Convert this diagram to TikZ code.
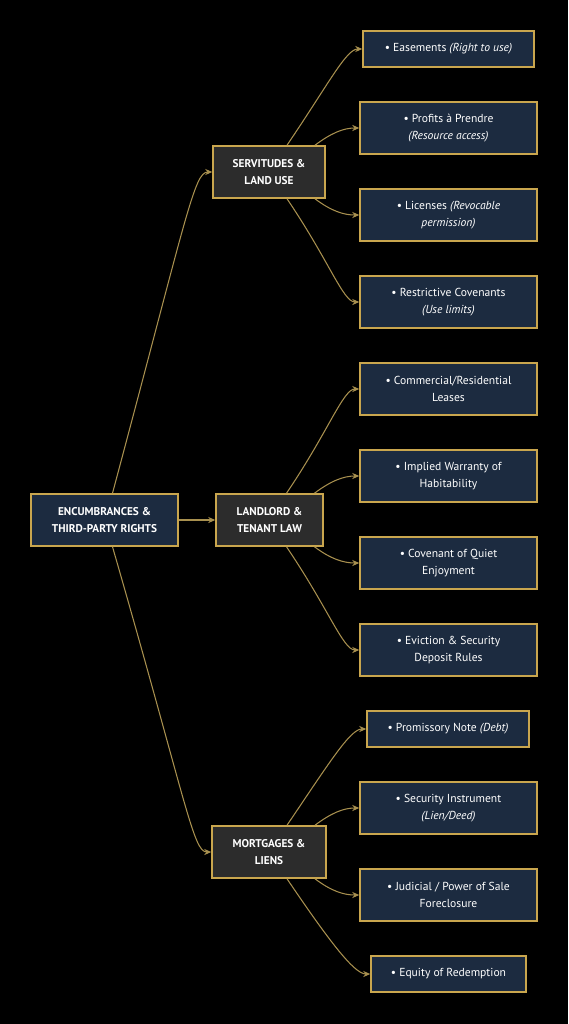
\documentclass[tikz,border=0pt]{standalone}
\usepackage{fontspec}
\setmainfont{PT Sans}
\usetikzlibrary{arrows.meta}
\definecolor{navy}{HTML}{1C2B40}
\definecolor{slate}{HTML}{2C2C2C}
\definecolor{gold}{HTML}{C9A64E}
\definecolor{wire}{HTML}{A8904F}
\tikzset{
	leaf/.style={draw=gold, line width=0.9pt, fill=navy, text=white, align=center, minimum width=3.54cm, minimum height=1.04cm, font=\fontsize{6.6}{9.6}\selectfont},
	short/.style={leaf, minimum height=0.72cm},
	branch/.style={draw=gold, line width=0.9pt, fill=slate, text=white, align=center, minimum height=1.04cm, font=\fontsize{6.4}{9.6}\selectfont\bfseries},
	trunk/.style={branch, fill=navy},
	link/.style={wire, line width=0.6pt, -{Stealth[length=4pt,width=3.5pt]}}
}
\begin{document}
\begin{tikzpicture}[x=0.02cm, y=0.02cm]
	\fill[black] (0,0) rectangle (568,-1024);
	\useasboundingbox (0,0) rectangle (568,-1024);
	% root and its three branches
	\node[trunk, minimum width=2.94cm] (root) at (104.5,-520) {ENCUMBRANCES \&\\THIRD-PARTY RIGHTS};
	\node[branch, minimum width=2.24cm] (serv) at (269,-172) {SERVITUDES \&\\LAND USE};
	\node[branch, minimum width=2.14cm] (land) at (269.5,-520) {LANDLORD \&\\TENANT LAW};
	\node[branch, minimum width=2.28cm] (mort) at (269,-852) {MORTGAGES \&\\LIENS};
	% servitudes
	\node[short, minimum width=3.42cm] (ease) at (448.5,-49) {• Easements \textit{(Right to use)}};
	\node[leaf] (prof) at (448.5,-128) {• Profits à Prendre\\\textit{(Resource access)}};
	\node[leaf] (lic) at (448.5,-215) {• Licenses \textit{(Revocable}\\\textit{permission)}};
	\node[leaf] (cov) at (448.5,-302) {• Restrictive Covenants\\\textit{(Use limits)}};
	% landlord and tenant
	\node[leaf] (lease) at (448.5,-389) {• Commercial/Residential\\Leases};
	\node[leaf] (hab) at (448.5,-476) {• Implied Warranty of\\Habitability};
	\node[leaf] (quiet) at (448.5,-563) {• Covenant of Quiet\\Enjoyment};
	\node[leaf] (evict) at (448.5,-650) {• Eviction \& Security\\Deposit Rules};
	% mortgages
	\node[short, minimum width=3.24cm] (note) at (448,-729) {• Promissory Note \textit{(Debt)}};
	\node[leaf] (sec) at (448.5,-808) {• Security Instrument\\\textit{(Lien/Deed)}};
	\node[leaf] (fore) at (448.5,-895) {• Judicial / Power of Sale\\Foreclosure};
	\node[short, minimum width=3.1cm] (equity) at (448.5,-974) {• Equity of Redemption};

	\draw[link] ([xshift=0.16cm]root.north) .. controls +(75,280) and +(-18,0) .. (serv.west);
	\draw[link] (root.east) -- (land.west);
	\draw[link] ([xshift=0.16cm]root.south) .. controls +(75,-260) and +(-18,0) .. (mort.west);

	\draw[link] ([xshift=0.36cm]serv.north) .. controls +(42,62) and +(-16,0) .. (ease.west);
	\draw[link] ([xshift=0.92cm]serv.north) .. controls +(16,12) and +(-16,0) .. (prof.west);
	\draw[link] ([xshift=0.92cm]serv.south) .. controls +(16,-12) and +(-16,0) .. (lic.west);
	\draw[link] ([xshift=0.36cm]serv.south) .. controls +(42,-62) and +(-16,0) .. (cov.west);

	\draw[link] ([xshift=0.34cm]land.north) .. controls +(42,62) and +(-16,0) .. (lease.west);
	\draw[link] ([xshift=0.9cm]land.north) .. controls +(16,12) and +(-16,0) .. (hab.west);
	\draw[link] ([xshift=0.9cm]land.south) .. controls +(16,-12) and +(-16,0) .. (quiet.west);
	\draw[link] ([xshift=0.34cm]land.south) .. controls +(42,-62) and +(-16,0) .. (evict.west);

	\draw[link] ([xshift=0.36cm]mort.north) .. controls +(42,62) and +(-16,0) .. (note.west);
	\draw[link] ([xshift=0.92cm]mort.north) .. controls +(16,12) and +(-16,0) .. (sec.west);
	\draw[link] ([xshift=0.92cm]mort.south) .. controls +(16,-12) and +(-16,0) .. (fore.west);
	\draw[link] ([xshift=0.36cm]mort.south) .. controls +(42,-62) and +(-16,0) .. (equity.west);
\end{tikzpicture}
\end{document}
